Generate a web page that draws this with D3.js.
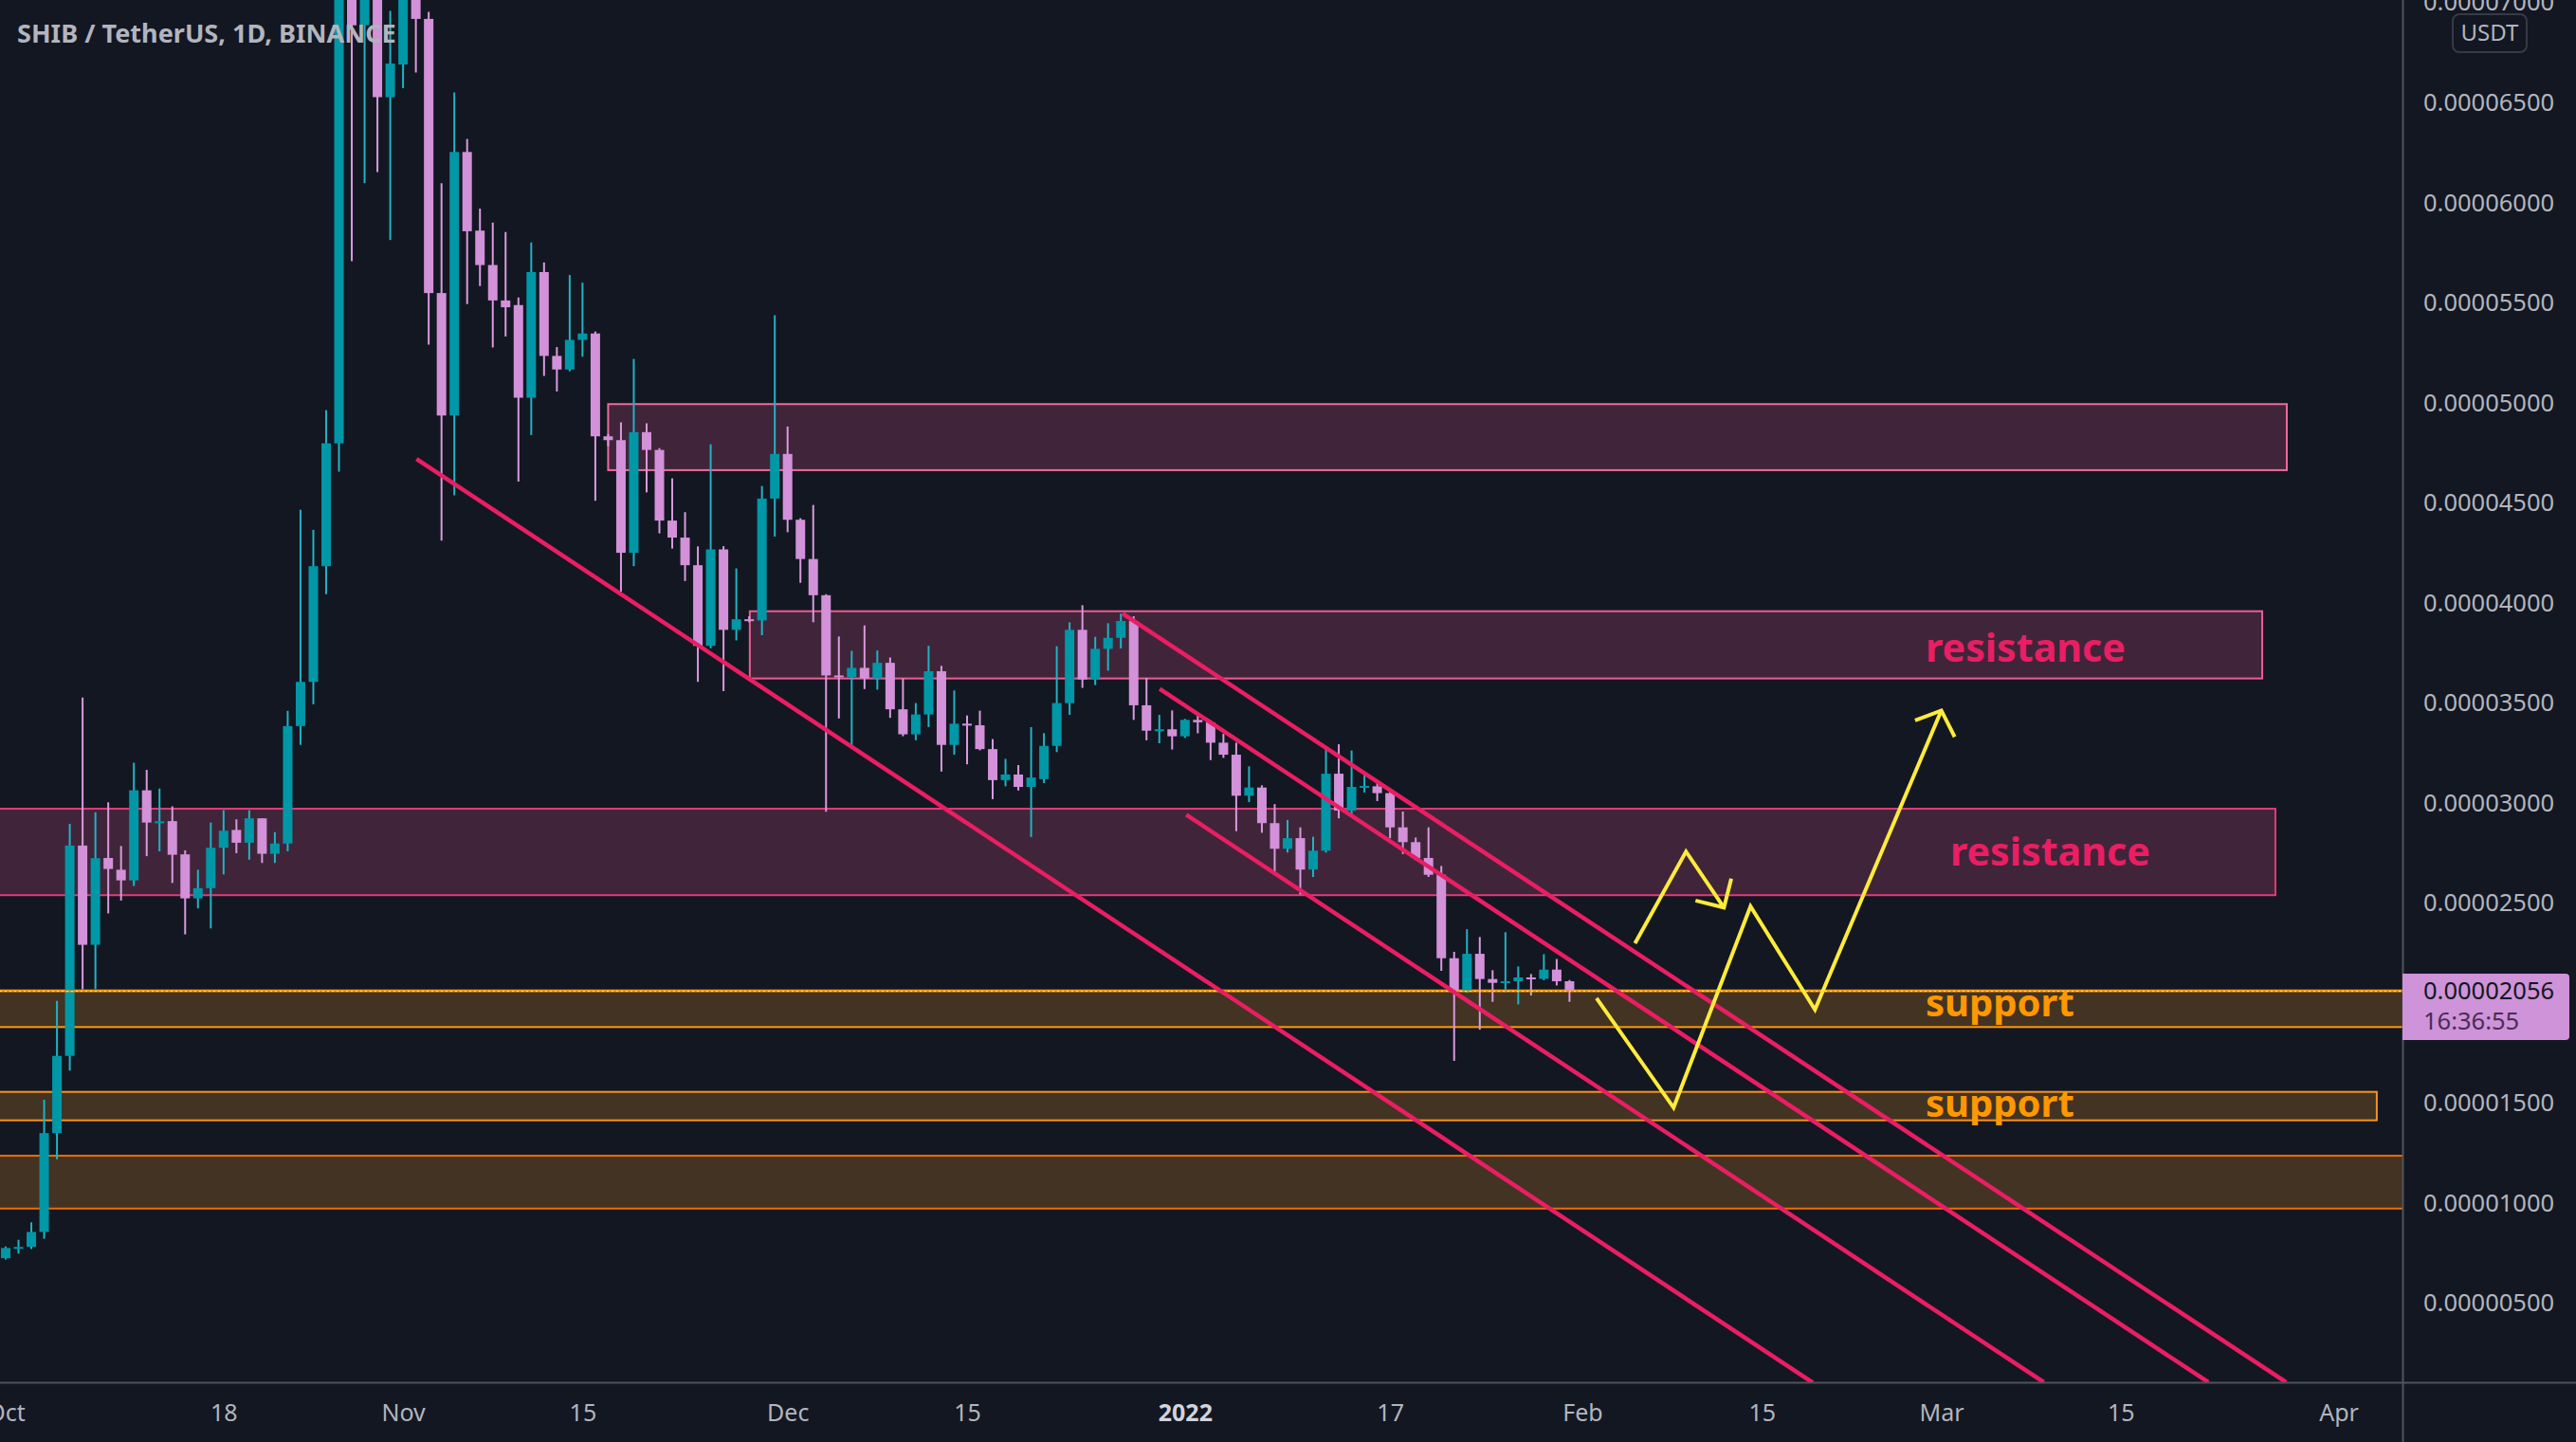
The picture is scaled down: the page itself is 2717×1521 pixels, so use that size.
<!DOCTYPE html>
<html><head><meta charset="utf-8">
<script src="https://cdn.jsdelivr.net/npm/d3@7"></script>
<style>html,body{margin:0;padding:0;background:#131722;overflow:hidden}</style>
</head><body>
<svg id="c" width="2717" height="1521"></svg>
<script>
// ---------------- DATA (prices in units of 1e-5 USDT) ----------------
const title = "SHIB / TetherUS, 1D, BINANCE";
const firstBar = "2021-10-01"; // daily bars, one per day
const opens = [0.722,0.773,0.779,0.853,1.347,1.733,2.784,2.288,2.722,2.663,2.61,3.06,2.899,2.906,2.74,2.52,2.571,2.773,2.862,2.798,2.92,2.743,2.794,3.381,3.602,4.18,4.794,7.5,6.883,7.2,6.524,6.687,7.1,6.915,5.545,4.933,6.25,5.857,5.685,5.508,5.485,5.022,5.65,5.231,5.163,5.311,5.343,4.829,4.81,4.247,4.85,4.761,4.408,4.323,4.185,3.782,4.264,3.862,3.915,3.909,4.518,4.741,4.412,4.216,4.035,3.634,3.625,3.672,3.619,3.697,3.465,3.34,3.439,3.655,3.287,3.393,3.385,3.266,3.111,3.139,3.077,3.116,3.282,3.496,3.862,3.614,3.767,3.822,3.906,3.485,3.358,3.365,3.33,3.412,3.40,3.298,3.238,3.033,3.074,2.896,2.768,2.821,2.664,2.758,3.143,2.959,3.077,3.08,3.046,2.875,2.801,2.722,2.638,2.221,2.054,2.243,2.117,2.098,2.106,2.125,2.118,2.164,2.106];
const highs = [0.78,0.814,0.901,1.514,2.008,2.892,3.524,2.95,3.0,2.782,3.198,3.162,3.069,2.98,2.76,2.663,2.899,2.961,2.915,2.961,2.92,2.851,3.457,4.462,4.362,4.96,7.7,8.8,7.5,7.4,6.955,7.3,7.3,6.95,6.094,6.547,6.315,5.967,5.897,5.85,5.523,5.798,5.698,5.275,5.635,5.597,5.353,4.84,4.899,5.216,4.894,4.77,4.619,4.45,4.279,4.789,4.28,4.169,3.93,4.581,5.434,4.878,4.42,4.486,4.04,3.829,3.757,3.884,3.759,3.724,3.619,3.496,3.782,3.682,3.559,3.434,3.458,3.316,3.217,3.186,3.376,3.346,3.78,3.899,3.985,3.827,3.895,3.943,3.93,3.622,3.437,3.459,3.417,3.437,3.41,3.342,3.298,3.18,3.085,2.991,2.912,2.875,2.828,3.267,3.29,3.259,3.148,3.1,3.06,2.954,2.824,2.875,2.682,2.253,2.366,2.327,2.161,2.351,2.18,2.142,2.241,2.217,2.112];
const lows = [0.715,0.745,0.768,0.819,1.216,1.659,2.066,2.066,2.445,2.509,2.582,2.731,2.755,2.597,2.34,2.47,2.37,2.64,2.746,2.713,2.697,2.697,2.755,3.287,3.49,4.04,4.652,5.704,6.094,6.149,5.81,6.569,6.647,5.287,4.308,4.534,5.49,5.58,5.273,5.328,4.603,4.835,5.131,5.053,5.154,5.227,4.507,4.78,4.053,4.18,4.549,4.344,4.268,4.106,3.602,3.77,3.556,3.809,3.90,3.835,4.328,4.35,4.097,3.9,2.953,3.419,3.272,3.566,3.563,3.422,3.33,3.31,3.376,3.154,3.238,3.19,3.26,3.016,3.08,3.059,2.827,3.096,3.251,3.437,3.572,3.586,3.658,3.769,3.412,3.31,3.295,3.264,3.322,3.345,3.211,3.222,2.856,3.001,2.848,2.643,2.749,2.54,2.627,2.749,2.92,2.927,3.049,3.006,2.821,2.742,2.711,2.627,2.158,1.708,2.048,1.864,2.003,2.051,1.99,2.035,2.111,2.085,2.003];
const closes = [0.773,0.778,0.853,1.347,1.733,2.784,2.288,2.721,2.667,2.61,3.06,2.899,2.905,2.738,2.52,2.571,2.773,2.858,2.798,2.92,2.743,2.794,3.381,3.602,4.18,4.794,7.5,6.883,7.2,6.524,6.692,7.1,6.915,5.545,4.933,6.25,5.854,5.685,5.508,5.474,5.022,5.65,5.231,5.163,5.311,5.343,4.829,4.81,4.247,4.85,4.761,4.408,4.323,4.185,3.782,4.264,3.862,3.915,3.91,4.518,4.741,4.412,4.216,4.035,3.634,3.625,3.672,3.619,3.697,3.465,3.34,3.439,3.655,3.287,3.393,3.385,3.266,3.111,3.139,3.077,3.124,3.282,3.496,3.862,3.614,3.767,3.822,3.906,3.485,3.358,3.365,3.33,3.412,3.40,3.298,3.238,3.033,3.074,2.896,2.768,2.821,2.664,2.758,3.143,2.959,3.077,3.082,3.046,2.875,2.801,2.722,2.638,2.221,2.054,2.243,2.117,2.098,2.106,2.125,2.118,2.164,2.106,2.056];
const lastPrice = 2.056;
const countdown = "16:36:55";

// 0.00002000 is hidden under the last-price tag in the reference
const priceTicks = [0.5,1,1.5,2.5,3,3.5,4,4.5,5,5.5,6,6.5,7];
const dateTicks = ["2021-10-01","2021-10-18","2021-11-01","2021-11-15","2021-12-01","2021-12-15","2022-01-01","2022-01-17","2022-02-01","2022-02-15","2022-03-01","2022-03-15","2022-04-01"];
const dateTickLabels = ["Oct","18","Nov","15","Dec","15","2022","17","Feb","15","Mar","15","Apr"];

// zones: [from, to, low, high]
const zoneTop = ["2021-11-17T00:00","2022-03-27T23:00",4.66,4.99];
const zoneRes1 = ["2021-11-28T01:12","2022-03-26T01:00",3.619,3.955];
const zoneRes2 = ["2021-09-20T00:00","2022-03-27T01:41",2.536,2.968];
const zoneSup1 = ["2021-09-20T00:00","2022-04-20T00:00",1.877,2.06];
const zoneSup2 = ["2021-09-20T00:00","2022-04-03T23:30",1.411,1.553];
const zoneLow = ["2021-09-20T00:00","2022-04-20T00:00",0.970,1.234];

// trend lines: [[date, price],[date, price]]
const trend1 = [["2021-11-02T01:12",4.716],["2022-02-18T23:31",0.10]];
const trend2 = [["2021-12-27T03:07",3.944],["2022-03-27T21:36",0.102]];
const trend3 = [["2021-12-30T00:43",3.567],["2022-03-21T20:10",0.102]];
const trend4 = [["2022-01-01T02:24",2.938],["2022-03-09T00:00",0.102]];

// projected paths (yellow)
const pathBig = [["2022-02-02T02:38",2.021],["2022-02-08T02:53",1.474],["2022-02-14T02:53",2.480],["2022-02-19T03:36",1.964],["2022-03-01T00:14",3.459]];
const headBig = [["2022-02-26T23:02",3.409],["2022-03-01T00:14",3.459],["2022-03-02T01:12",3.327]];
const pathSmall = [["2022-02-05T02:38",2.295],["2022-02-09T02:10",2.754],["2022-02-12T01:12",2.474]];
const headSmall = [["2022-02-09T19:55",2.509],["2022-02-12T01:12",2.474],["2022-02-12T14:53",2.619]];

// labels: [text, date (center), baseline price, colour, width px]
const labels = [
  ["resistance","2022-03-07T13:55",3.703,"#e91e63",211],
  ["resistance","2022-03-09T12:00",2.683,"#e91e63",211],
  ["support","2022-03-05T13:55",1.932,"#ff9800",157],
  ["support","2022-03-05T13:55",1.427,"#ff9800",157]
];

// ---------------- DRAW ----------------
const W = 2717, H = 1521, plotR = 2534, plotB = 1458;
const pt = d3.utcParse("%Y-%m-%dT%H:%M");
const pd = d3.utcParse("%Y-%m-%d");
const P = s => s.length > 10 ? pt(s) : pd(s);

const x = d3.scaleUtc().domain([pd("2021-10-01"), pd("2022-04-01")]).range([6, 2466.6]);
const y = d3.scaleLinear().domain([0, 7]).range([1479.5, 2]);

const svg = d3.select("#c");
svg.append("rect").attr("width", W).attr("height", H).attr("fill", "#131722");
const defs = svg.append("defs");
defs.append("clipPath").attr("id","plot").append("rect").attr("x",0).attr("y",0).attr("width",plotR).attr("height",plotB);
const g = svg.append("g").attr("clip-path","url(#plot)");

const FONT = "'Noto Sans', 'Open Sans', sans-serif";

function zone(z, fill, stroke, sw) {
  const x0 = x(P(z[0])), x1 = x(P(z[1])), y0 = y(z[3]), y1 = y(z[2]);
  g.append("rect").attr("x", x0).attr("y", y0).attr("width", x1 - x0).attr("height", y1 - y0)
    .attr("fill", fill).attr("stroke", stroke).attr("stroke-width", sw);
}
zone(zoneLow, "#433323", "#ef6c00", 2);
zone(zoneSup2, "#433323", "#f7931e", 2);
zone(zoneSup1, "#433323", "#ff9800", 2);
zone(zoneRes2, "#40253a", "#e23a78", 2);
zone(zoneRes1, "#40253a", "#ee5c95", 2);
zone(zoneTop, "#40253a", "#f06a9c", 2);

// candles
const start = pd(firstBar);
const bars = closes.map((c, i) => ({d: d3.utcDay.offset(start, i), o: opens[i], h: highs[i], l: lows[i], c}));
const UP = "#0097a7", DOWN = "#d291d8", UPW = "#20b3c3", DOWNW = "#d99ade";
const cg = g.append("g");
cg.selectAll("line.w").data(bars).join("line").attr("class","w")
  .attr("x1", d => x(d.d)).attr("x2", d => x(d.d))
  .attr("y1", d => y(d.h)).attr("y2", d => y(d.l))
  .attr("stroke", d => d.c >= d.o ? UPW : DOWNW).attr("stroke-width", 2);
cg.selectAll("rect.b").data(bars).join("rect").attr("class","b")
  .attr("x", d => x(d.d) - 5).attr("width", 10)
  .attr("y", d => y(Math.max(d.o, d.c)))
  .attr("height", d => Math.max(2, Math.abs(y(d.o) - y(d.c))))
  .attr("fill", d => d.c >= d.o ? UP : DOWN);

// last price dotted line
g.append("line").attr("x1", 0).attr("x2", plotR).attr("y1", y(lastPrice)).attr("y2", y(lastPrice))
  .attr("stroke", "#ff9800").attr("stroke-width", 2);
g.append("line").attr("x1", 0).attr("x2", plotR).attr("y1", y(lastPrice)).attr("y2", y(lastPrice))
  .attr("stroke", "#f3e3d0").attr("stroke-width", 1).attr("stroke-dasharray", "2,3");

// trend lines
const line = d3.line().x(d => x(P(d[0]))).y(d => y(d[1]));
[trend1, trend2, trend3, trend4].forEach(t => {
  g.append("path").attr("d", line(t)).attr("fill","none").attr("stroke","#e91e63").attr("stroke-width",4.5);
});
// yellow projections
[pathBig, headBig, pathSmall, headSmall].forEach(t => {
  g.append("path").attr("d", line(t)).attr("fill","none").attr("stroke","#ffeb3b")
    .attr("stroke-width",4).attr("stroke-linejoin","miter");
});

function fit(sel, w) {
  const n = sel.node(); const cur = n.getComputedTextLength();
  if (cur > 0) sel.attr("font-size", parseFloat(sel.attr("font-size")) * w / cur);
}
labels.forEach(l => {
  const t = g.append("text").text(l[0]).attr("x", x(P(l[1]))).attr("y", y(l[2]))
    .attr("text-anchor","middle").attr("font-family", FONT).attr("font-weight","bold")
    .attr("font-size", 44).attr("fill", l[3]);
  fit(t, l[4]);
});

// title
const tt = svg.append("text").text(title).attr("x", 18).attr("y", 45).attr("font-family", FONT)
  .attr("font-weight","bold").attr("font-size", 28).attr("fill","#b2b5be");
fit(tt, 400);

// axes area
svg.append("rect").attr("x", plotR).attr("y", 0).attr("width", W - plotR).attr("height", H).attr("fill","#131722");
svg.append("rect").attr("x", 0).attr("y", plotB).attr("width", W).attr("height", H - plotB).attr("fill","#131722");

const yAxis = d3.axisRight(y).tickValues(priceTicks).tickSize(0).tickFormat(v => (v * 1e-5).toFixed(8));
const ya = svg.append("g").attr("transform", `translate(${plotR},0)`).call(yAxis);
ya.select(".domain").remove();
ya.selectAll("text").attr("x", 22).attr("dy", "0.35em").attr("fill","#b2b5be")
  .attr("font-family", FONT).attr("font-size", 25.5);

const xAxis = d3.axisBottom(x).tickValues(dateTicks.map(pd)).tickSize(0)
  .tickFormat((d, i) => dateTickLabels[i]);
const xa = svg.append("g").attr("transform", `translate(0,${plotB})`).call(xAxis);
xa.select(".domain").remove();
xa.selectAll("text").attr("y", 32).attr("dy", "0.35em")
  .attr("font-family", FONT).attr("font-size", 25)
  .attr("font-weight", (d, i) => dateTickLabels[i] === "2022" ? "bold" : "normal")
  .attr("fill", (d, i) => dateTickLabels[i] === "2022" ? "#d1d4dc" : "#b2b5be");

// separators
svg.append("line").attr("x1", plotR + 0.5).attr("x2", plotR + 0.5).attr("y1", 0).attr("y2", H)
  .attr("stroke","#50535e").attr("stroke-width",2);
svg.append("line").attr("x1", 0).attr("x2", W).attr("y1", plotB + 0.5).attr("y2", plotB + 0.5)
  .attr("stroke","#50535e").attr("stroke-width",2);

// USDT badge
svg.append("rect").attr("x", 2587).attr("y", 15).attr("width", 78).attr("height", 40).attr("rx", 7)
  .attr("fill","#131722").attr("stroke","#363a45").attr("stroke-width",2);
svg.append("text").text("USDT").attr("x", 2626).attr("y", 35).attr("dy","0.35em")
  .attr("text-anchor","middle").attr("font-family", FONT).attr("font-size", 24).attr("fill","#b2b5be");

// last price tag
const ly = y(lastPrice);
svg.append("path").attr("d", `M${plotR},${ly-18.5} h172 a4,4 0 0 1 4,4 v62 a4,4 0 0 1 -4,4 h-172 z`)
  .attr("fill","#ce93d8");
svg.append("text").text((lastPrice * 1e-5).toFixed(8)).attr("x", plotR + 22).attr("y", ly).attr("dy","0.35em")
  .attr("font-family", FONT).attr("font-size", 25.5).attr("fill","#131722");
svg.append("text").text(countdown).attr("x", plotR + 22).attr("y", ly + 32).attr("dy","0.35em")
  .attr("font-family", FONT).attr("font-size", 25.5).attr("fill","#4a2c55");
</script>
</body></html>
